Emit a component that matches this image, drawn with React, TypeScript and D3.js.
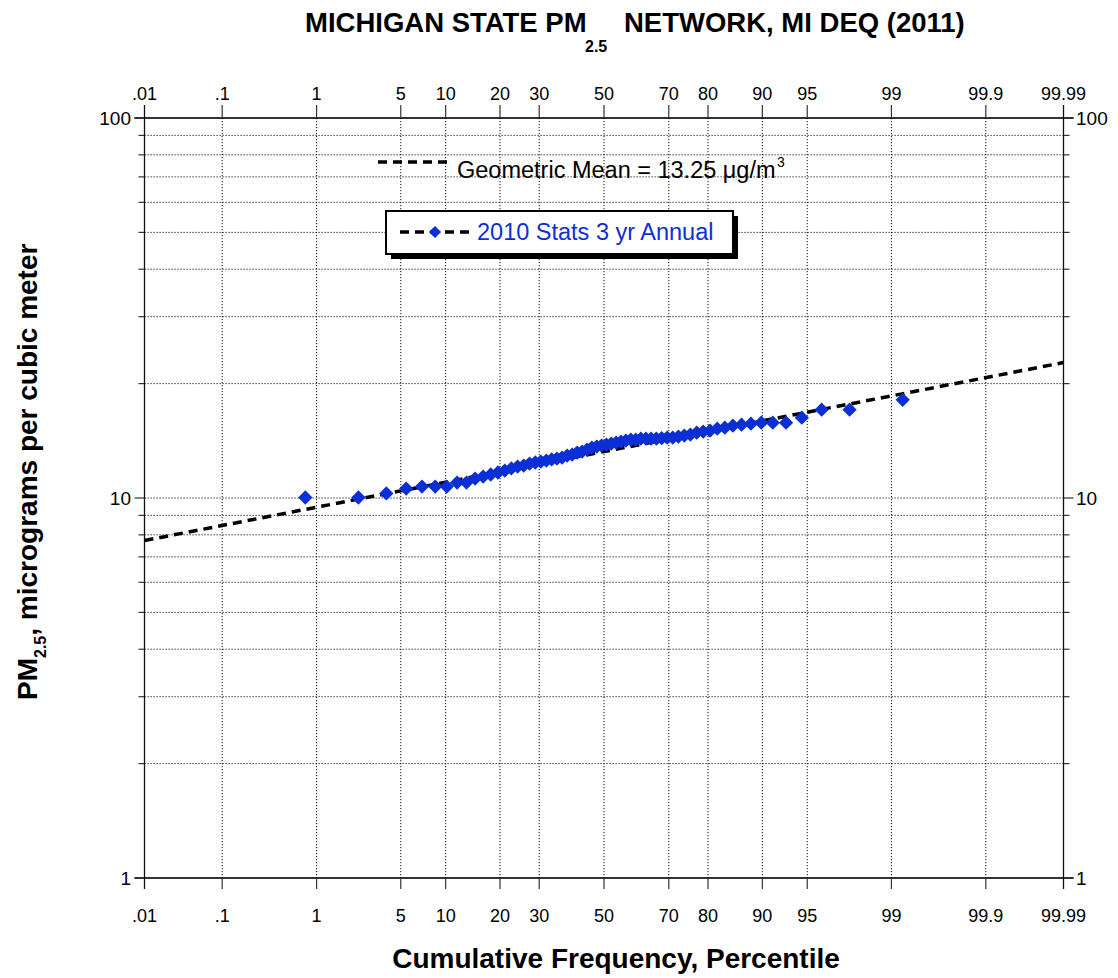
import * as d3 from "d3";

// sorted 3-yr annual PM2.5 site values (ug/m3)
const siteValues = [
  10.03, 10.03, 10.28, 10.59, 10.72, 10.72, 10.72, 10.98, 10.98, 11.25, 11.39,
  11.53, 11.67, 11.81, 11.96, 12.1, 12.17, 12.32, 12.4, 12.47, 12.55, 12.63,
  12.7, 12.78, 12.93, 13.01, 13.17, 13.25, 13.41, 13.57, 13.66, 13.74, 13.82,
  13.9, 13.99, 14.07, 14.16, 14.24, 14.24, 14.33, 14.33, 14.33, 14.33, 14.37,
  14.42, 14.42, 14.51, 14.6, 14.69, 14.86, 14.95, 15.04, 15.22, 15.31, 15.5,
  15.59, 15.69, 15.78, 15.78, 15.78, 16.27, 17.08, 17.08, 18.13,
];

const geoMean = 13.25;
const geoSd = 1.156;

const pctTicks = [0.01, 0.1, 1, 5, 10, 20, 30, 50, 70, 80, 90, 95, 99, 99.9, 99.99];
const pctLabels = [".01", ".1", "1", "5", "10", "20", "30", "50", "70", "80", "90", "95", "99", "99.9", "99.99"];
const yLabelTicks = [1, 10, 100];

// inverse normal cdf (Acklam)
function probit(p: number) {
  const a = [-39.69683028665376, 220.9460984245205, -275.9285104469687, 138.357751867269, -30.66479806614716, 2.506628277459239];
  const b = [-54.47609879822406, 161.5858368580409, -155.6989798598866, 66.80131188771972, -13.28068155288572];
  const c = [-0.007784894002430293, -0.3223964580411365, -2.400758277161838, -2.549732539343734, 4.374664141464968, 2.938163982698783];
  const d = [0.007784695709041462, 0.3224671290700398, 2.445134137142996, 3.754408661907416];
  const plow = 0.02425;
  if (p < plow) {
    const q = Math.sqrt(-2 * Math.log(p));
    return (((((c[0] * q + c[1]) * q + c[2]) * q + c[3]) * q + c[4]) * q + c[5]) /
      ((((d[0] * q + d[1]) * q + d[2]) * q + d[3]) * q + 1);
  }
  if (p > 1 - plow) {
    const q = Math.sqrt(-2 * Math.log(1 - p));
    return -(((((c[0] * q + c[1]) * q + c[2]) * q + c[3]) * q + c[4]) * q + c[5]) /
      ((((d[0] * q + d[1]) * q + d[2]) * q + d[3]) * q + 1);
  }
  const q = p - 0.5;
  const r = q * q;
  return ((((((a[0] * r + a[1]) * r + a[2]) * r + a[3]) * r + a[4]) * r + a[5]) * q) /
    (((((b[0] * r + b[1]) * r + b[2]) * r + b[3]) * r + b[4]) * r + 1);
}

const width = 1118;
const height = 978;
const left = 144.5;
const right = 1063.5;
const top = 118;
const bottom = 878;

const zScale = d3.scaleLinear().domain([probit(0.0001), probit(0.9999)]).range([left, right]);
const x = (pct: number) => zScale(probit(pct / 100));
const y = d3.scaleLog().domain([1, 100]).range([bottom, top]);

const BLUE = "#0b2fd6";
const font = "'Liberation Sans', Arial, Helvetica, sans-serif";

export default function App() {
  const n = siteValues.length;
  // Hazen plotting positions
  const points = siteValues.map((v, i) => ({ p: ((i + 0.5) / n) * 100, v }));
  const zDom = zScale.domain();
  const fit = d3.line<number>()
    .x((z) => zScale(z))
    .y((z) => y(geoMean * Math.pow(geoSd, z)))(zDom);
  const diamond = d3.symbol().type(d3.symbolDiamond2).size(130)()!;
  const hLines = y.ticks();

  return (
    <svg width={width} height={height} style={{ position: "absolute", left: 0, top: 0, background: "#fff" }} fontFamily={font}>
      {/* title */}
      <text x={305} y={32} fontSize={27.5} fontWeight="bold">MICHIGAN STATE PM</text>
      <text x={585} y={52} fontSize={16} fontWeight="bold">2.5</text>
      <text x={624} y={32} fontSize={27.5} fontWeight="bold">NETWORK, MI DEQ (2011)</text>

      {/* horizontal grid */}
      {hLines.map((v) => {
        const major = yLabelTicks.includes(v);
        const edge = v === 1 || v === 100;
        const yy = y(v);
        return (
          <g key={"h" + v}>
            {!edge && (
              <line x1={left} x2={right} y1={yy} y2={yy} stroke="#111" strokeWidth={1} strokeDasharray="1.2,1.8" />
            )}
            {edge && <line x1={left - 10} x2={right + 10} y1={yy} y2={yy} stroke="#333" strokeWidth={2} />}
            <line x1={left - (major ? 10 : 6)} x2={left} y1={yy} y2={yy} stroke="#333" strokeWidth={1.2} />
            <line x1={right} x2={right + (major ? 10 : 6)} y1={yy} y2={yy} stroke="#333" strokeWidth={1.2} />
          </g>
        );
      })}

      {/* vertical grid */}
      {pctTicks.map((p, i) => {
        const xx = x(p);
        const edge = i === 0 || i === pctTicks.length - 1;
        return (
          <g key={"v" + p}>
            {edge ? (
              <line x1={xx} x2={xx} y1={top - 13} y2={bottom + 11} stroke="#111" strokeWidth={1.3} />
            ) : (
              <>
                <line x1={xx} x2={xx} y1={top} y2={bottom} stroke="#111" strokeWidth={1} strokeDasharray="1.2,1.8" />
                <line x1={xx} x2={xx} y1={top - 13} y2={top} stroke="#333" strokeWidth={1.2} />
                <line x1={xx} x2={xx} y1={bottom} y2={bottom + 11} stroke="#333" strokeWidth={1.2} />
              </>
            )}
            <text x={xx} y={100} fontSize={18} textAnchor="middle">{pctLabels[i]}</text>
            <text x={xx} y={922} fontSize={18} textAnchor="middle">{pctLabels[i]}</text>
          </g>
        );
      })}

      {/* y labels */}
      {yLabelTicks.map((v) => (
        <g key={"yl" + v}>
          <text x={131} y={y(v) + 7} fontSize={19} textAnchor="end">{v}</text>
          <text x={1076} y={y(v) + 7} fontSize={19}>{v}</text>
        </g>
      ))}

      {/* fit line */}
      <path d={fit ?? ""} fill="none" stroke="#000" strokeWidth={3.5} strokeDasharray="9,6" />

      {/* data */}
      {points.map((d, i) => (
        <path key={"pt" + i} d={diamond} transform={`translate(${x(d.p)},${y(d.v)})`} fill={BLUE} />
      ))}

      {/* geometric mean legend */}
      <line x1={378} x2={452} y1={162} y2={162} stroke="#000" strokeWidth={3.5} strokeDasharray="9,6" />
      <text x={457} y={178} fontSize={23.5}>Geometric Mean = 13.25 μg/m</text>
      <text x={777} y={167} fontSize={14}>3</text>

      {/* series legend */}
      <rect x={391} y={216} width={347} height={43} fill="#000" />
      <rect x={386} y={211} width={347} height={43} fill="#fff" stroke="#000" strokeWidth={2} />
      <line x1={400} x2={472} y1={232} y2={232} stroke="#000" strokeWidth={3.5} strokeDasharray="9,6" />
      <path d={d3.symbol().type(d3.symbolDiamond2).size(95)()!} transform="translate(435,232)" fill={BLUE} />
      <text x={477} y={240} fontSize={23.5} fill={BLUE}>2010 Stats 3 yr Annual</text>

      {/* axis titles */}
      <text x={616} y={968} fontSize={28} fontWeight="bold" textAnchor="middle">Cumulative Frequency, Percentile</text>
      <g transform="translate(37,700) rotate(-90)">
        <text x={0} y={0} fontSize={28} fontWeight="bold">
          PM
          <tspan fontSize={16} dy={9}>2.5</tspan>
          <tspan dy={-9}>, micrograms per cubic meter</tspan>
        </text>
      </g>
    </svg>
  );
}
